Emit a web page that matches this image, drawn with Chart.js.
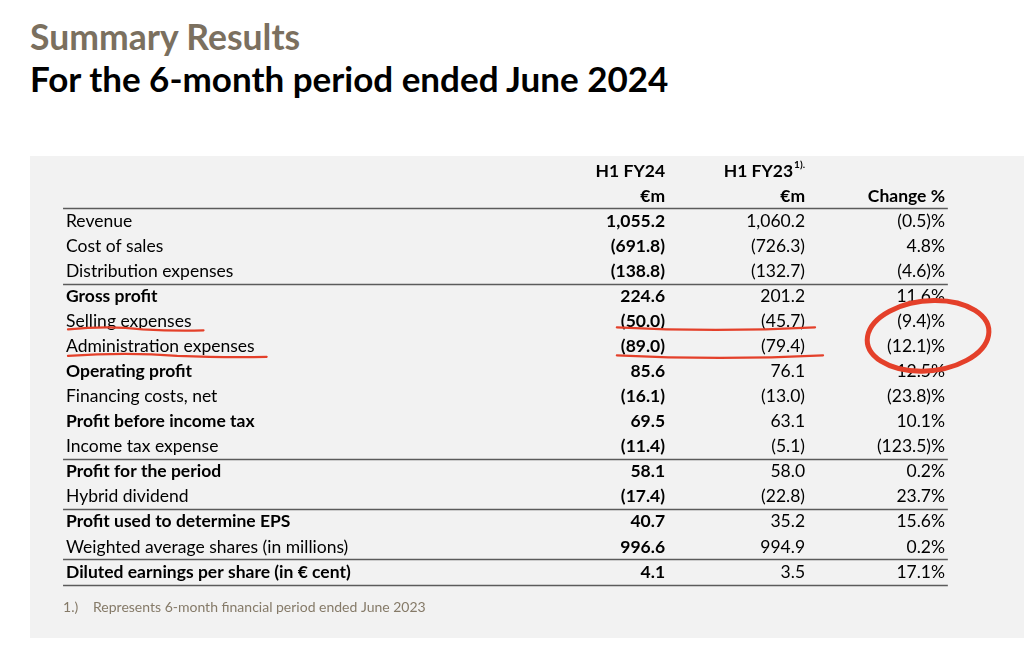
<!DOCTYPE html>
<html>
<head>
<meta charset="utf-8">
<script src="https://cdn.jsdelivr.net/npm/chart.js@4/dist/chart.umd.min.js"></script>
<style>
  html, body { margin: 0; padding: 0; background: #ffffff; width: 1024px; height: 654px; overflow: hidden; }
  .t1 { position: absolute; left: 30px; top: 16px; font-family: Lato, sans-serif; font-weight: 700; font-size: 35.5px; color: #7b705f; white-space: nowrap; line-height: 42px; }
  .t2 { position: absolute; left: 30px; top: 57px; font-family: Lato, sans-serif; font-weight: 700; font-size: 35px; color: #000000; white-space: nowrap; line-height: 42px; }
  .panel { position: absolute; left: 30px; top: 156px; width: 994px; height: 482px; background: #f2f2f2; }
</style>
</head>
<body>
<div class="t1">Summary Results</div>
<div class="t2">For the 6-month period ended June 2024</div>
<div class="panel"><canvas id="c"></canvas></div>
<script>
// ---- data ----
const rowLabels = [
  'Revenue', 'Cost of sales', 'Distribution expenses', 'Gross profit',
  'Selling expenses', 'Administration expenses', 'Operating profit',
  'Financing costs, net', 'Profit before income tax', 'Income tax expense',
  'Profit for the period', 'Hybrid dividend', 'Profit used to determine EPS',
  'Weighted average shares (in millions)', 'Diluted earnings per share (in € cent)'
];
const fy24Values = [1055.2, -691.8, -138.8, 224.6, -50.0, -89.0, 85.6, -16.1, 69.5, -11.4, 58.1, -17.4, 40.7, 996.6, 4.1];
const fy23Values = [1060.2, -726.3, -132.7, 201.2, -45.7, -79.4, 76.1, -13.0, 63.1, -5.1, 58.0, -22.8, 35.2, 994.9, 3.5];
const changePct  = [-0.5, 4.8, -4.6, 11.6, -9.4, -12.1, 12.5, -23.8, 10.1, -123.5, 0.2, 23.7, 15.6, 0.2, 17.1];
const columnHeads = ['H1 FY24', 'H1 FY23', ''];
const columnUnits = ['€m', '€m', 'Change %'];
const headNotes = ['', '1).', ''];
const boldRows = [3, 6, 8, 10, 12, 14];
const rulesAfterRows = [-1, 2, 9, 11, 13, 14];
const footnoteMark = '1.)';
const footnoteText = 'Represents 6-month financial period ended June 2023';
const markedRows = [4, 5];

// ---- formatting ----
function fmtNum(v) {
  const s = Math.abs(v).toLocaleString('en-US', { minimumFractionDigits: 1, maximumFractionDigits: 1 });
  return v < 0 ? '(' + s + ')' : s;
}
function fmtPct(v) {
  const s = Math.abs(v).toFixed(1);
  return v < 0 ? '(' + s + ')%' : s + '%';
}

const FONT = 'Lato, sans-serif';
const SIZE = 17.5;
const LABEL_X = -3.279, RULE_X0 = -3.30, RULE_X1 = 3.02;

const ds = [
  { label: 'H1 FY24', data: fy24Values.map((v, i) => ({ x: 1, y: i, v })), bold: true, fmt: fmtNum },
  { label: 'H1 FY23', data: fy23Values.map((v, i) => ({ x: 2, y: i, v })), bold: false, fmt: fmtNum },
  { label: 'Change %', data: changePct.map((v, i) => ({ x: 3, y: i, v })), bold: false, fmt: fmtPct }
].map(d => Object.assign(d, { pointRadius: 0, pointHoverRadius: 0, showLine: false }));

const tablePlugin = {
  id: 'tableText',
  afterDatasetsDraw(chart) {
    const ctx = chart.ctx;
    const sx = chart.scales.x, sy = chart.scales.y;
    ctx.save();
    // rules
    ctx.strokeStyle = '#5b5b5b';
    ctx.lineWidth = 1.6;
    rulesAfterRows.forEach(r => {
      const py = Math.round(sy.getPixelForValue(r + 0.5)) + 0.5;
      ctx.beginPath();
      ctx.moveTo(sx.getPixelForValue(RULE_X0), py);
      ctx.lineTo(sx.getPixelForValue(RULE_X1), py);
      ctx.stroke();
    });
    ctx.textBaseline = 'middle';
    ctx.fillStyle = '#000000';
    // row labels
    ctx.textAlign = 'left';
    rowLabels.forEach((lab, i) => {
      ctx.font = (boldRows.includes(i) ? '700 ' : '400 ') + SIZE + 'px ' + FONT;
      ctx.fillText(lab, sx.getPixelForValue(LABEL_X), sy.getPixelForValue(i));
    });
    // column headers
    ctx.textAlign = 'right';
    columnHeads.forEach((h, c) => {
      const px = sx.getPixelForValue(c + 1);
      ctx.font = '700 ' + SIZE + 'px ' + FONT;
      let right = px;
      if (headNotes[c]) {
        ctx.font = '700 10px ' + FONT;
        const w = ctx.measureText(headNotes[c]).width;
        ctx.fillText(headNotes[c], px, sy.getPixelForValue(-2) - 6);
        right = px - w - 1;
        ctx.font = '700 ' + SIZE + 'px ' + FONT;
      }
      if (h) ctx.fillText(h, right, sy.getPixelForValue(-2));
      ctx.fillText(columnUnits[c], px, sy.getPixelForValue(-1));
    });
    // cells
    chart.data.datasets.forEach((d, di) => {
      const meta = chart.getDatasetMeta(di);
      ctx.font = (d.bold ? '700 ' : '400 ') + SIZE + 'px ' + FONT;
      meta.data.forEach((el, j) => {
        ctx.fillText(d.fmt(d.data[j].v), el.x, el.y);
      });
    });
    // footnote
    ctx.textAlign = 'left';
    ctx.fillStyle = '#857a68';
    ctx.font = '400 14px ' + FONT;
    const fy = sy.getPixelForValue(15.4);
    ctx.fillText(footnoteMark, sx.getPixelForValue(RULE_X0), fy);
    ctx.fillText(footnoteText, sx.getPixelForValue(RULE_X0) + 30, fy);
    ctx.restore();
  },
  afterDraw(chart) {
    // hand-drawn red markup
    const ctx = chart.ctx;
    const sx = chart.scales.x, sy = chart.scales.y;
    ctx.save();
    ctx.strokeStyle = '#e4402a';
    ctx.lineCap = 'round';
    ctx.lineWidth = 2.2;
    markedRows.forEach(r => {
      ctx.font = '400 ' + SIZE + 'px ' + FONT;
      const x0 = sx.getPixelForValue(LABEL_X) + 2;
      const w = ctx.measureText(rowLabels[r]).width + 10;
      const y0 = sy.getPixelForValue(r) + 7 + (r - markedRows[0]) * 1.5;
      ctx.beginPath();
      ctx.moveTo(x0, y0 + 1);
      ctx.quadraticCurveTo(x0 + w * 0.3, y0 - 3, x0 + w * 0.55, y0 + 1);
      ctx.quadraticCurveTo(x0 + w * 0.8, y0 + 3, x0 + w, y0 + 2);
      ctx.stroke();
      // values underline
      ctx.font = '700 ' + SIZE + 'px ' + FONT;
      const vx0 = sx.getPixelForValue(1) - ctx.measureText(fmtNum(fy24Values[r])).width - 4;
      const vx1 = sx.getPixelForValue(2) + 10 + (r - markedRows[0]) * 8;
      const vy = sy.getPixelForValue(r) + 7 + (r - markedRows[0]) * 3;
      ctx.beginPath();
      ctx.moveTo(vx0, vy - 1);
      ctx.quadraticCurveTo((vx0 + vx1) / 2, vy + 4, vx1, vy - 1);
      ctx.stroke();
    });
    // circle around change % of marked rows
    const cx = sx.getPixelForValue(3) - 17;
    const cy = sy.getPixelForValue((markedRows[0] + markedRows[1]) / 2) + 2;
    ctx.lineWidth = 5;
    ctx.beginPath();
    ctx.ellipse(cx, cy, 61, 35, -0.1, Math.PI * 1.05, Math.PI * 3.1);
    ctx.stroke();
    ctx.restore();
  }
};

new Chart(document.getElementById('c'), {
  type: 'scatter',
  data: { datasets: ds },
  options: {
    responsive: true,
    maintainAspectRatio: false,
    animation: false,
    events: [],
    layout: { padding: 0 },
    plugins: { legend: { display: false }, tooltip: { enabled: false }, title: { display: false } },
    scales: {
      x: { type: 'linear', display: false, min: -3.536, max: 3.564 },
      y: { type: 'linear', display: false, reverse: true, min: -2.593, max: 16.633 }
    }
  },
  plugins: [tablePlugin]
});
</script>
</body>
</html>
